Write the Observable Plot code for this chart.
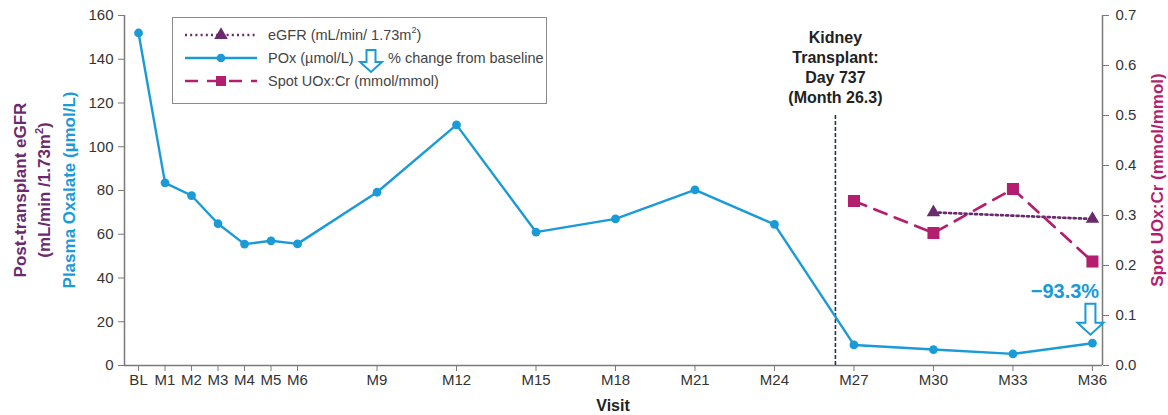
<!DOCTYPE html>
<html>
<head>
<meta charset="utf-8">
<script src="https://cdn.jsdelivr.net/npm/d3@7"></script>
<script src="https://cdn.jsdelivr.net/npm/@observablehq/plot@0.6"></script>
<style>
  body { margin: 0; background: #fff; font-family: "Liberation Sans", Arial, sans-serif; }
  #chart { width: 1168px; height: 415px; }
</style>
</head>
<body>
<div id="chart"></div>
<script>
// Visits (months since baseline) and their axis labels
const visitMonths = [0, 1, 2, 3, 4, 5, 6, 9, 12, 15, 18, 21, 24, 27, 30, 33, 36];
const visitLabels = ["BL", "M1", "M2", "M3", "M4", "M5", "M6", "M9", "M12", "M15", "M18", "M21", "M24", "M27", "M30", "M33", "M36"];

// Plasma oxalate (µmol/L), one value per visit
const poxValues = [152, 83.5, 77.7, 64.8, 55.5, 57, 55.6, 79.2, 110, 61, 67, 80.3, 64.5, 9.4, 7.3, 5.3, 10.2];

// Post-transplant eGFR (mL/min/1.73m²)
const egfrMonths = [30, 36];
const egfrValues = [70, 67];

// Spot urinary oxalate:creatinine (mmol/mmol), right axis
const uoxMonths = [27, 30, 33, 36];
const uoxValues = [0.329, 0.265, 0.353, 0.208];

// Kidney transplant event
const transplantMonth = 26.3;
const transplantLabel = "Kidney\nTransplant:\nDay 737\n(Month 26.3)";

// Axis ticks
const leftTicks = [0, 20, 40, 60, 80, 100, 120, 140, 160];
const rightTicks = [0, 0.1, 0.2, 0.3, 0.4, 0.5, 0.6, 0.7];
const leftMax = 160;
const rightMax = 0.7;
const xDomain = [-0.53, 36.38];

const blue = "#1a9ad7";
const purple = "#6b2a6e";
const magenta = "#b31f6e";
const navy = "#1d3557";
const axisGrey = "#7a7a7a";
const textGrey = "#333";

// right-axis values expressed on the left (primary) y scale
const toLeft = v => v * leftMax / rightMax;

const pox = visitMonths.map((m, i) => ({month: m, value: poxValues[i]}));
const egfr = egfrMonths.map((m, i) => ({month: m, value: egfrValues[i]}));
const uox = uoxMonths.map((m, i) => ({month: m, value: uoxValues[i]}));

const plot = Plot.plot({
  width: 1168,
  height: 415,
  marginLeft: 124,
  marginRight: 66,
  marginTop: 15,
  marginBottom: 50,
  style: {fontFamily: "Liberation Sans, Arial, sans-serif", fontSize: "15px", color: textGrey, background: "white", overflow: "visible"},
  x: {domain: xDomain},
  y: {domain: [0, leftMax]},
  marks: [
    // axis lines
    Plot.ruleY([0], {stroke: axisGrey, strokeWidth: 1.5}),
    Plot.ruleX([xDomain[0], xDomain[1]], {stroke: axisGrey, strokeWidth: 1.5}),
    Plot.axisX(visitMonths, {
      tickFormat: d => visitLabels[visitMonths.indexOf(d)],
      tickSize: 6, tickPadding: 3, stroke: axisGrey, fill: textGrey, label: null
    }),
    Plot.axisY(leftTicks, {anchor: "left", tickSize: 6, tickPadding: 5, stroke: axisGrey, fill: textGrey, label: null}),
    Plot.axisY(rightTicks.map(toLeft), {
      anchor: "right", tickSize: 6, tickPadding: 7, stroke: axisGrey, fill: textGrey, label: null,
      tickFormat: d => (d * rightMax / leftMax).toFixed(1)
    }),
    // transplant marker
    Plot.ruleX([transplantMonth], {y1: 0, y2: 115, stroke: navy, strokeWidth: 1.6, strokeDasharray: "4,2"}),
    Plot.text([transplantLabel], {
      x: transplantMonth, frameAnchor: "top", dy: 13, lineAnchor: "top", lineHeight: 1.25,
      fontWeight: "bold", fontSize: 16, fill: "#222"
    }),
    // plasma oxalate
    Plot.line(pox, {x: "month", y: "value", stroke: blue, strokeWidth: 2.4}),
    Plot.dot(pox, {x: "month", y: "value", r: 4.4, fill: blue}),
    // spot UOx:Cr
    Plot.line(uox, {x: "month", y: d => toLeft(d.value), stroke: magenta, strokeWidth: 2.7, strokeDasharray: "13,9"}),
    Plot.dot(uox, {x: "month", y: d => toLeft(d.value), symbol: "square", r: 6.8, fill: magenta}),
    // eGFR
    Plot.line(egfr, {x: "month", y: "value", stroke: purple, strokeWidth: 2.7, strokeDasharray: "2,3.2"}),
    Plot.dot(egfr, {x: "month", y: "value", symbol: "triangle", r: 5, fill: purple})
  ]
});

document.getElementById("chart").appendChild(plot);

const svg = d3.select(plot);
const sx = plot.scale("x");
const sy = plot.scale("y");

// hollow down arrow
function downArrow(cx, tipY, shaftW, headW, shaftL, headL) {
  const top = tipY - headL - shaftL;
  const neck = tipY - headL;
  return `M${cx - shaftW / 2},${top}H${cx + shaftW / 2}V${neck}H${cx + headW / 2}L${cx},${tipY}L${cx - headW / 2},${neck}H${cx - shaftW / 2}Z`;
}

// percent change from baseline at the last visit
const last = pox[pox.length - 1];
const pct = (last.value - pox[0].value) / pox[0].value * 100;
const lx = sx.apply(last.month);
const ly = sy.apply(last.value);
svg.append("path")
  .attr("d", downArrow(lx - 1.5, ly - 8, 10, 26, 19, 12))
  .attr("fill", "white").attr("stroke", blue).attr("stroke-width", 2).attr("stroke-linejoin", "miter");
svg.append("text")
  .attr("x", lx - 27).attr("y", ly - 45)
  .attr("text-anchor", "middle")
  .attr("font-size", 20).attr("font-weight", "bold").attr("fill", blue)
  .text(`\u2212${Math.abs(pct).toFixed(1)}%`);

// axis titles
const midY = 190;
function vTitle(x, y, parts) {
  const t = svg.append("text")
    .attr("transform", `translate(${x},${y}) rotate(-90)`)
    .attr("text-anchor", "middle")
    .attr("dominant-baseline", "central")
    .attr("font-size", 17).attr("font-weight", "bold");
  parts.forEach(([s, c]) => t.append("tspan").attr("fill", c).text(s));
  return t;
}
vTitle(20, midY, [["Post-transplant eGFR", purple]]);
const t2 = vTitle(44, midY, [["(mL/min /1.73m", purple]]);
t2.append("tspan").attr("fill", purple).attr("font-size", 11).attr("dy", -5).text("2");
t2.append("tspan").attr("fill", purple).attr("dy", 5).text(")");
vTitle(69, midY, [["Plasma Oxalate (µmol/L)", blue]]);
vTitle(1157, 180, [["Spot UOx:Cr (mmol/mmol)", magenta]]);

svg.append("text")
  .attr("x", (124 + 1102) / 2).attr("y", 411)
  .attr("text-anchor", "middle")
  .attr("font-size", 16).attr("font-weight", "bold").attr("fill", "#222")
  .text("Visit");

// legend
const lg = svg.append("g").attr("font-size", 14.5).attr("fill", "#444").attr("text-anchor", "start");
lg.append("rect").attr("x", 172.5).attr("y", 17.5).attr("width", 374).attr("height", 86)
  .attr("fill", "white").attr("stroke", "#8a8a8a").attr("stroke-width", 1);
const rows = [
  {y: 35, color: purple, dash: "2,3.2", width: 2.6, symbol: d3.symbolTriangle, size: 80},
  {y: 58, color: blue, dash: null, width: 2.4, symbol: d3.symbolCircle, size: 60},
  {y: 81, color: magenta, dash: "13,9", width: 2.6, symbol: d3.symbolSquare, size: 100}
];
rows.forEach(r => {
  const ln = lg.append("line").attr("x1", 185).attr("x2", 257).attr("y1", r.y).attr("y2", r.y)
    .attr("stroke", r.color).attr("stroke-width", r.width);
  if (r.dash) ln.attr("stroke-dasharray", r.dash);
  lg.append("path").attr("transform", `translate(221,${r.y})`)
    .attr("d", d3.symbol(r.symbol, r.size)()).attr("fill", r.color);
});
const eg = lg.append("text").attr("x", 268).attr("y", 35).attr("dominant-baseline", "central");
eg.append("tspan").text("eGFR (mL/min/ 1.73m");
eg.append("tspan").attr("font-size", 9).attr("dy", -5).text("2");
eg.append("tspan").attr("dy", 5).text(")");
lg.append("text").attr("x", 268).attr("y", 58).attr("dominant-baseline", "central").text("POx (µmol/L)");
lg.append("path").attr("d", downArrow(371, 72, 9, 22, 12, 10))
  .attr("fill", "white").attr("stroke", blue).attr("stroke-width", 2);
lg.append("text").attr("x", 388).attr("y", 58).attr("dominant-baseline", "central").text("% change from baseline");
lg.append("text").attr("x", 268).attr("y", 81).attr("dominant-baseline", "central").text("Spot UOx:Cr (mmol/mmol)");
</script>
</body>
</html>
